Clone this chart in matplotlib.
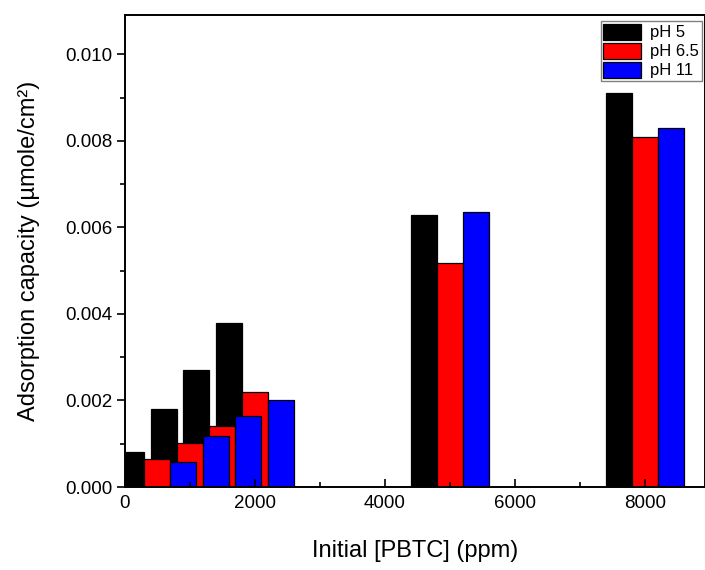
import numpy as np
from matplotlib import pyplot as plt
from matplotlib.ticker import MultipleLocator, FormatStrFormatter

plt.rcParams['font.family'] = ['Liberation Sans', 'DejaVu Sans']

# initial PBTC concentration (ppm) and adsorption capacity (umole/cm2)
conc = np.array([500, 1000, 1500, 2000, 5000, 8000])
ph5 = [0.00080, 0.00181, 0.00271, 0.00380, 0.00628, 0.00910]
ph65 = [0.00065, 0.00102, 0.00142, 0.00219, 0.00518, 0.00808]
ph11 = [0.00057, 0.00119, 0.00164, 0.00201, 0.00636, 0.00830]
labels = ["pH 5", "pH 6.5", "pH 11"]
colors = ["black", "red", "blue"]

fig = plt.figure(figsize=(7.05, 5.70), dpi=100)
ax = fig.add_axes([0.1766, 0.1456, 0.8234, 0.8281])

width = 400
for series, off, col, lab in zip([ph5, ph65, ph11], [-400, 0, 400], colors, labels):
    ax.bar(conc + off, series, width=width, color=col, edgecolor="black",
           linewidth=0.9, label=lab)

ax.set_xlim(0, 8920)
ax.set_ylim(0, 0.01091)
ax.xaxis.set_major_locator(MultipleLocator(2000))
ax.xaxis.set_minor_locator(MultipleLocator(1000))
ax.yaxis.set_major_locator(MultipleLocator(0.002))
ax.yaxis.set_minor_locator(MultipleLocator(0.001))
ax.yaxis.set_major_formatter(FormatStrFormatter('%.3f'))

ax.tick_params(axis='x', which='both', direction='in', labelsize=13.5, pad=6)
ax.tick_params(axis='x', which='major', length=6, width=1.2)
ax.tick_params(axis='x', which='minor', length=3.5, width=1.2)
ax.tick_params(axis='y', which='both', direction='out', labelsize=13.5, pad=3)
ax.tick_params(axis='y', which='major', length=6, width=1.2)
ax.tick_params(axis='y', which='minor', length=3.5, width=1.2)
for s in ax.spines.values():
    s.set_linewidth(1.4)

ax.set_xlabel("Initial [PBTC] (ppm)", fontsize=17, labelpad=20)
ax.set_ylabel("Adsorption capacity (\u00b5mole/cm\u00b2)", fontsize=17, labelpad=18)

leg = ax.legend(loc="upper right", bbox_to_anchor=(0.994, 0.987), fontsize=12,
                fancybox=False, framealpha=1, edgecolor="gray",
                handlelength=2.25, handleheight=1.1, labelspacing=0.14,
                borderpad=0.15, handletextpad=0.55, borderaxespad=0)
leg.get_frame().set_linewidth(1.0)

fig.savefig("out.png", dpi=100)
